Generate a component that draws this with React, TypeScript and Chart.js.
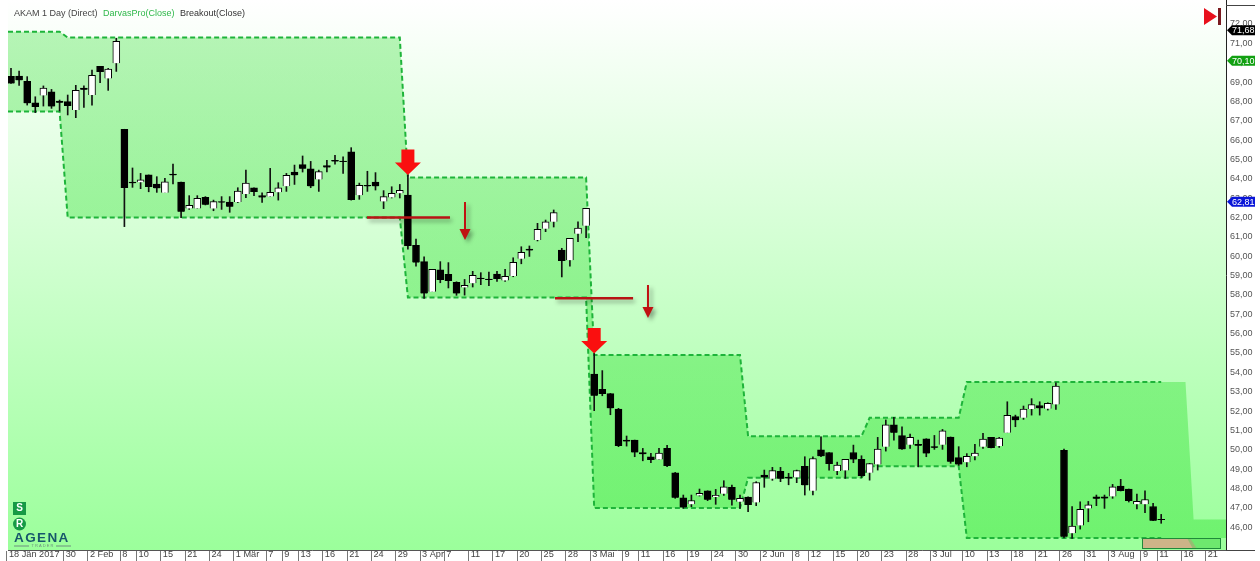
import React, { useEffect, useRef } from "react";
import { Chart, registerables } from "chart.js";

Chart.register(...registerables);

const opens = [
  69.29,69.31,69.04,67.93,68.31,68.50,68.02,67.99,67.56,68.69,
  68.33,69.81,69.19,69.97,66.56,63.83,63.82,64.20,63.73,63.28,
  64.25,63.83,62.47,62.47,63.04,62.46,62.83,62.80,62.80,63.21,
  63.54,63.13,63.08,63.30,63.61,64.35,64.73,64.52,63.97,64.68,
  64.95,64.92,65.40,63.15,63.66,63.83,62.83,63.04,63.25,63.16,
  60.56,59.72,58.17,59.30,59.06,58.65,58.39,58.60,58.87,58.82,
  59.08,58.75,58.98,59.87,60.37,60.84,61.42,61.78,60.32,59.79,
  61.16,61.58,53.91,53.12,52.90,52.10,50.50,50.50,49.86,49.64,
  49.50,50.07,48.81,47.52,47.18,47.64,47.88,47.56,47.73,48.06,
  47.31,47.56,47.28,48.69,48.50,48.88,48.59,48.57,49.14,47.88,
  49.99,49.86,48.90,48.93,49.86,49.50,48.81,49.24,50.16,51.29,
  50.73,50.26,50.28,50.57,50.17,50.26,50.66,49.59,49.35,49.66,
  50.16,50.64,50.19,50.88,51.71,51.65,52.10,52.28,52.12,52.34,
  49.97,45.68,46.09,46.97,47.57,47.57,47.59,48.12,47.97,47.18,
  47.18,47.07,46.40,
];
const closes = [
  68.93,69.09,67.90,67.71,68.69,67.74,67.93,67.76,68.57,68.62,
  69.35,69.52,69.67,71.10,63.52,63.77,63.95,63.58,63.51,63.85,
  64.18,62.30,62.63,62.99,62.66,62.83,62.77,62.56,63.37,63.78,
  63.32,63.04,63.30,63.54,64.18,64.18,64.52,63.61,64.37,64.59,
  64.90,64.87,62.90,63.66,63.61,63.61,63.08,63.25,63.40,60.53,
  59.67,58.08,59.32,58.77,58.72,58.08,58.49,59.01,58.82,58.77,
  58.82,58.96,59.68,60.20,60.30,61.39,61.78,62.25,59.75,60.92,
  61.46,62.47,52.79,52.88,52.14,50.19,50.43,49.86,49.78,49.47,
  49.83,49.16,47.52,47.02,47.38,47.75,47.42,47.64,48.09,47.42,
  47.49,47.14,48.31,48.57,48.92,48.50,48.52,48.93,48.16,49.55,
  49.67,49.26,49.21,49.50,49.50,48.64,49.28,50.04,51.29,50.88,
  50.02,50.64,50.21,49.81,50.10,50.98,49.38,49.24,49.66,49.83,
  50.55,50.09,50.60,51.78,51.53,52.10,52.33,52.14,52.40,53.29,
  45.50,46.06,46.92,47.16,47.49,47.50,48.09,47.87,47.35,47.33,
  47.43,46.33,46.37,
];
const highs = [
  69.71,69.57,69.28,68.24,68.80,68.62,68.07,68.33,68.83,68.80,
  69.62,69.81,69.71,71.26,66.56,64.56,64.28,64.20,64.11,64.02,
  64.76,63.83,63.13,63.13,63.08,62.90,63.08,63.08,63.54,64.45,
  63.54,63.28,64.54,63.80,64.28,64.71,65.18,64.90,64.45,64.95,
  65.21,65.14,65.61,63.78,64.39,64.32,63.39,63.59,63.71,64.20,
  60.89,59.97,59.32,59.72,59.67,58.68,58.80,59.22,59.15,59.18,
  59.22,59.32,59.92,60.49,60.53,61.70,61.87,62.39,60.41,60.92,
  61.78,62.47,54.98,54.09,52.91,52.14,50.71,50.50,50.07,49.81,
  50.07,50.23,48.83,47.66,47.66,47.97,47.88,47.95,48.40,48.18,
  47.66,47.57,48.35,48.95,49.09,49.09,48.78,48.95,49.64,49.64,
  50.67,49.86,49.36,49.50,50.24,49.69,49.30,50.64,51.54,51.67,
  51.19,50.81,50.50,50.57,50.74,51.05,50.66,50.16,49.80,50.28,
  50.85,50.64,50.64,52.48,51.79,52.26,52.64,52.48,52.43,53.46,
  50.04,47.06,47.31,47.33,47.66,47.66,48.21,48.47,47.97,47.71,
  47.88,47.23,46.66,
];
const lows = [
  68.93,68.83,67.81,67.42,67.76,67.64,67.50,67.30,67.16,67.69,
  67.80,68.97,68.57,69.55,61.53,63.56,63.49,63.33,63.30,63.28,
  63.73,61.99,62.42,62.47,62.65,62.35,62.42,62.27,62.77,63.02,
  63.13,62.78,63.08,62.90,63.35,63.71,64.35,63.54,63.35,64.35,
  64.76,64.28,62.90,62.94,63.35,63.42,62.46,63.01,63.01,60.36,
  59.49,57.82,58.17,58.63,58.36,57.98,57.99,58.41,58.53,58.48,
  58.70,58.70,58.94,59.61,59.99,60.79,61.27,61.51,58.93,59.49,
  60.75,60.96,52.02,52.79,51.81,50.16,50.19,49.64,49.43,49.33,
  49.50,49.12,47.49,46.97,47.06,47.61,47.37,47.18,47.64,47.14,
  46.97,46.80,47.11,48.06,48.42,48.35,48.19,48.30,47.66,47.66,
  49.64,48.95,48.71,48.52,49.33,48.57,48.43,48.95,49.93,50.50,
  50.02,50.07,49.12,49.64,50.02,50.02,49.30,49.19,49.12,49.48,
  50.07,50.09,50.12,50.88,51.19,51.57,51.79,51.79,52.05,52.09,
  45.45,45.42,45.90,46.28,47.11,46.97,47.49,47.87,47.30,46.94,
  46.75,46.33,46.20,
];

const boxIndex = [-0.37, 6, 7, 48, 49, 71, 72, 90, 91, 105, 106, 117, 118, 142, 145, 146, 150];
const boxUpper = [71.6, 71.6, 71.3, 71.3, 64.07, 64.07, 54.9, 54.9, 50.7, 50.7, 51.65, 51.65, 53.5, 53.5, 53.5, 46.4, 46.4];
const boxLower = [67.48, 67.48, 62, 62, 57.87, 57.87, 46.99, 46.99, 48.55, 48.55, 49.15, 49.15, 45.44, 45.44, 45.44, 45.44, 45.44];
const dashedPoints = 14;

const tickIndex = [0,7,10,14,16,19,22,25,28,32,34,36,39,42,45,48,51,54,57,60,63,66,69,72,76,78,81,84,87,90,93,97,99,102,105,108,111,114,118,121,124,127,130,133,136,140,142,145,148];
const tickLabels = ["18 Jän 2017","30","2 Feb","8","10","15","21","24","1 Mär","7","9","13","16","21","24","29","3 Apr","7","11","17","20","25","28","3 Mai","9","11","16","19","24","30","2 Jun","8","12","15","20","23","28","3 Jul","10","13","18","21","26","31","3 Aug","9","11","16","21"];
const priceTicks = [46,47,48,49,50,51,52,53,54,55,56,57,58,59,60,61,62,63,64,65,66,67,68,69,70,71,72];

const priceTags = [
  { value: 71.68, color: "#000000" },
  { value: 70.1, color: "#12a012" },
  { value: 62.81, color: "#0a16d8" },
];
const bigArrows = [{ x: 49, y: 64.2 }, { x: 72, y: 54.98 }];
const breakoutLines = [{ x0: 43.95, x1: 54.2, y: 62 }, { x0: 67.16, x1: 76.8, y: 57.83 }];
const smallArrows = [{ x: 56.05, y0: 62.8, y1: 60.84 }, { x: 78.64, y0: 58.51, y1: 56.81 }];

const FONT = '"Liberation Sans", Arial, sans-serif';

const decor = {
  id: "decor",
  beforeDraw(chart: any) {
    const { ctx, chartArea: a } = chart;
    const g = ctx.createLinearGradient(0, 0, 0, a.bottom);
    g.addColorStop(0, "#ffffff");
    g.addColorStop(1, "#9bff9b");
    ctx.save();
    ctx.fillStyle = g;
    ctx.fillRect(a.left, 0, a.right - a.left, a.bottom);
    ctx.restore();
  },
  afterDatasetsDraw(chart: any) {
    const { ctx, scales } = chart;
    const X = scales.x, Y = scales.y;
    ctx.save();
    for (const l of breakoutLines) {
      ctx.save();
      ctx.shadowColor = "rgba(0,0,0,0.35)";
      ctx.shadowBlur = 4;
      ctx.shadowOffsetX = 2;
      ctx.shadowOffsetY = 3;
      ctx.strokeStyle = "#b81414";
      ctx.lineWidth = 2.4;
      ctx.beginPath();
      ctx.moveTo(X.getPixelForValue(l.x0), Y.getPixelForValue(l.y));
      ctx.lineTo(X.getPixelForValue(l.x1), Y.getPixelForValue(l.y));
      ctx.stroke();
      ctx.restore();
    }
    for (const s of smallArrows) {
      const x = X.getPixelForValue(s.x), y0 = Y.getPixelForValue(s.y0), y1 = Y.getPixelForValue(s.y1);
      ctx.save();
      ctx.shadowColor = "rgba(0,0,0,0.35)";
      ctx.shadowBlur = 4;
      ctx.shadowOffsetX = 3;
      ctx.shadowOffsetY = 3;
      ctx.fillStyle = "#c01212";
      ctx.beginPath();
      ctx.moveTo(x - 1, y0);
      ctx.lineTo(x + 1, y0);
      ctx.lineTo(x + 1, y1 - 11);
      ctx.lineTo(x + 5.5, y1 - 11);
      ctx.lineTo(x, y1);
      ctx.lineTo(x - 5.5, y1 - 11);
      ctx.lineTo(x - 1, y1 - 11);
      ctx.closePath();
      ctx.fill();
      ctx.restore();
    }
    for (const b of bigArrows) {
      const x = X.getPixelForValue(b.x), y = Y.getPixelForValue(b.y);
      ctx.fillStyle = "#fa0f0f";
      ctx.beginPath();
      ctx.moveTo(x, y);
      ctx.lineTo(x + 13, y - 12.5);
      ctx.lineTo(x + 6.5, y - 12.5);
      ctx.lineTo(x + 6.5, y - 25.5);
      ctx.lineTo(x - 6.5, y - 25.5);
      ctx.lineTo(x - 6.5, y - 12.5);
      ctx.lineTo(x - 13, y - 12.5);
      ctx.closePath();
      ctx.fill();
    }
    ctx.restore();
  },
  afterDraw(chart: any) {
    const { ctx, scales, chartArea: a } = chart;
    const Y = scales.y;
    ctx.save();
    ctx.textBaseline = "middle";
    // header texts
    ctx.font = "9px " + FONT;
    ctx.textAlign = "left";
    ctx.fillStyle = "#444444";
    ctx.fillText("AKAM 1 Day (Direct)", 14, 13.5);
    ctx.fillStyle = "#2fb84a";
    ctx.fillText("DarvasPro(Close)", 103, 13.5);
    ctx.fillStyle = "#333333";
    ctx.fillText("Breakout(Close)", 180, 13.5);

    // price tags
    for (const t of priceTags) {
      const y = Y.getPixelForValue(t.value);
      ctx.fillStyle = t.color;
      ctx.beginPath();
      ctx.moveTo(a.right + 1, y);
      ctx.lineTo(a.right + 6, y - 5);
      ctx.lineTo(a.right + 29, y - 5);
      ctx.lineTo(a.right + 29, y + 5);
      ctx.lineTo(a.right + 6, y + 5);
      ctx.closePath();
      ctx.fill();
      ctx.fillStyle = "#ffffff";
      ctx.fillText(t.value.toFixed(2).replace(".", ","), a.right + 6, y + 0.5);
    }

    // end-of-chart icon
    ctx.fillStyle = "#e8101c";
    ctx.beginPath();
    ctx.moveTo(1204, 8);
    ctx.lineTo(1217, 16.5);
    ctx.lineTo(1204, 25);
    ctx.closePath();
    ctx.fill();
    ctx.fillStyle = "#7a1a20";
    ctx.fillRect(1218, 8, 3, 17);

    // S / R badges
    ctx.fillStyle = "#169a45";
    ctx.fillRect(13, 502, 13, 13);
    ctx.beginPath();
    ctx.arc(19.5, 524, 6.5, 0, Math.PI * 2);
    ctx.fill();
    ctx.fillStyle = "#ffffff";
    ctx.font = "bold 10px " + FONT;
    ctx.textAlign = "center";
    ctx.fillText("S", 19.5, 508.5);
    ctx.fillText("R", 19.5, 524.5);

    // logo
    ctx.fillStyle = "#17566b";
    ctx.textAlign = "left";
    ctx.font = "bold 13.5px " + FONT;
    (ctx as any).letterSpacing = "1.4px";
    ctx.fillText("AGENA", 14, 538.5);
    (ctx as any).letterSpacing = "0px";
    ctx.fillStyle = "#6f8f80";
    ctx.font = "4px " + FONT;
    ctx.textAlign = "center";
    ctx.fillText("T R A D E R", 42.5, 546);
    ctx.fillRect(14, 545.5, 15, 1);
    ctx.fillRect(56, 545.5, 15, 1);

    // navigator
    ctx.fillStyle = "#6ee86e";
    ctx.fillRect(1142, 538, 79, 11);
    ctx.fillStyle = "#96bd72";
    ctx.beginPath();
    ctx.moveTo(1186, 538);
    ctx.lineTo(1190, 538);
    ctx.lineTo(1197, 549);
    ctx.lineTo(1186, 549);
    ctx.closePath();
    ctx.fill();
    ctx.fillStyle = "#cdb488";
    ctx.beginPath();
    ctx.moveTo(1142, 538);
    ctx.lineTo(1187, 538);
    ctx.lineTo(1193, 549);
    ctx.lineTo(1142, 549);
    ctx.closePath();
    ctx.fill();
    ctx.strokeStyle = "#1f8a3a";
    ctx.lineWidth = 1;
    ctx.strokeRect(1142.5, 538.5, 78, 10);

    // panel frame of the price axis
    ctx.strokeStyle = "#444444";
    ctx.beginPath();
    ctx.moveTo(a.right, 5.5);
    ctx.lineTo(1255, 5.5);
    ctx.moveTo(a.right, a.bottom + 0.5);
    ctx.lineTo(1255, a.bottom + 0.5);
    ctx.stroke();
    ctx.restore();
  },
};

export default function App() {
  const ref = useRef<HTMLCanvasElement | null>(null);
  useEffect(() => {
    const canvas = ref.current as HTMLCanvasElement;
    const wick = opens.map((_, i) => ({ x: i, y: [lows[i], highs[i]] }));
    const body = opens.map((o, i) => ({ x: i, y: [o, closes[i]] }));
    const color = opens.map((o, i) => (closes[i] > o ? "#ffffff" : "#000000"));
    const upper = boxIndex.map((x, i) => ({ x, y: boxUpper[i] }));
    const lower = boxIndex.map((x, i) => ({ x, y: boxLower[i] }));
    const lineColor = "#1eb43a";
    const boxFill = (canvas.getContext("2d") as CanvasRenderingContext2D).createLinearGradient(0, 0, 0, 550);
    boxFill.addColorStop(0, "rgba(60,225,60,0.35)");
    boxFill.addColorStop(1, "rgba(60,228,60,0.48)");
    const dash = { borderColor: lineColor, borderWidth: 2, borderDash: [5, 3], pointRadius: 0, tension: 0, fill: false };
    const chart = new Chart(canvas, {
      type: "bar",
      data: {
        datasets: [
          { type: "bar", label: "Body", data: body, backgroundColor: color, borderColor: "#000000", borderWidth: 1, barThickness: 7, grouped: false, order: 1 },
          { type: "bar", label: "Wick", data: wick, backgroundColor: "#111111", borderWidth: 0, barThickness: 1, grouped: false, order: 2 },
          { type: "line", label: "Upper dash", data: upper.slice(0, dashedPoints), ...dash, order: 3 },
          { type: "line", label: "Lower dash", data: lower.slice(0, dashedPoints), ...dash, order: 4 },
          { type: "line", label: "Upper", data: upper, borderWidth: 0, pointRadius: 0, tension: 0, fill: "+1", backgroundColor: boxFill, order: 5 },
          { type: "line", label: "Lower", data: lower, borderWidth: 0, pointRadius: 0, tension: 0, fill: false, order: 6 },
        ],
      } as any,
      options: {
        animation: false,
        responsive: false,
        layout: { autoPadding: false, padding: { left: 8, top: 0, right: 0, bottom: 0 } },
        plugins: { legend: { display: false }, tooltip: { enabled: false } },
        scales: {
          x: {
            type: "linear",
            offset: false,
            min: -0.37,
            max: 150,
            afterBuildTicks: (s: any) => { s.ticks = tickIndex.map((i) => ({ value: i - 0.5 })); },
            afterFit: (s: any) => { s.height = 11; s.paddingLeft = 0; s.paddingRight = 0; s.paddingTop = 0; s.paddingBottom = 0; },
            border: { display: true, color: "#555555", width: 1 },
            grid: { offset: false, drawOnChartArea: false, tickLength: 11, color: "#777777" },
            ticks: {
              autoSkip: false,
              maxRotation: 0,
              align: "start",
              labelOffset: 2,
              padding: -12,
              font: { size: 9.2, family: FONT },
              color: "#444444",
              callback: (v: any) => {
                const k = tickIndex.indexOf(Number(v) + 0.5);
                return k >= 0 ? tickLabels[k] : "";
              },
            },
          },
          y: {
            type: "linear",
            position: "right",
            min: 44.82,
            max: 73.24,
            afterBuildTicks: (s: any) => { s.ticks = priceTicks.map((value) => ({ value })); },
            afterFit: (s: any) => { s.width = 34; s.paddingTop = 0; s.paddingBottom = 0; s.paddingLeft = 0; s.paddingRight = 0; },
            border: { display: true, color: "#222222", width: 1 },
            grid: { drawOnChartArea: false, drawTicks: false },
            ticks: {
              padding: 4,
              font: { size: 9, family: FONT },
              color: "#555555",
              callback: (v: any) => Number(v).toFixed(2).replace(".", ","),
            },
          },
        },
      } as any,
      plugins: [decor],
    } as any);
    return () => chart.destroy();
  }, []);
  return (
    <div style={{ position: "fixed", left: 0, top: 0, width: 1260, height: 561, background: "#ffffff" }}>
      <canvas ref={ref} width={1260} height={561} style={{ display: "block" }} />
    </div>
  );
}
